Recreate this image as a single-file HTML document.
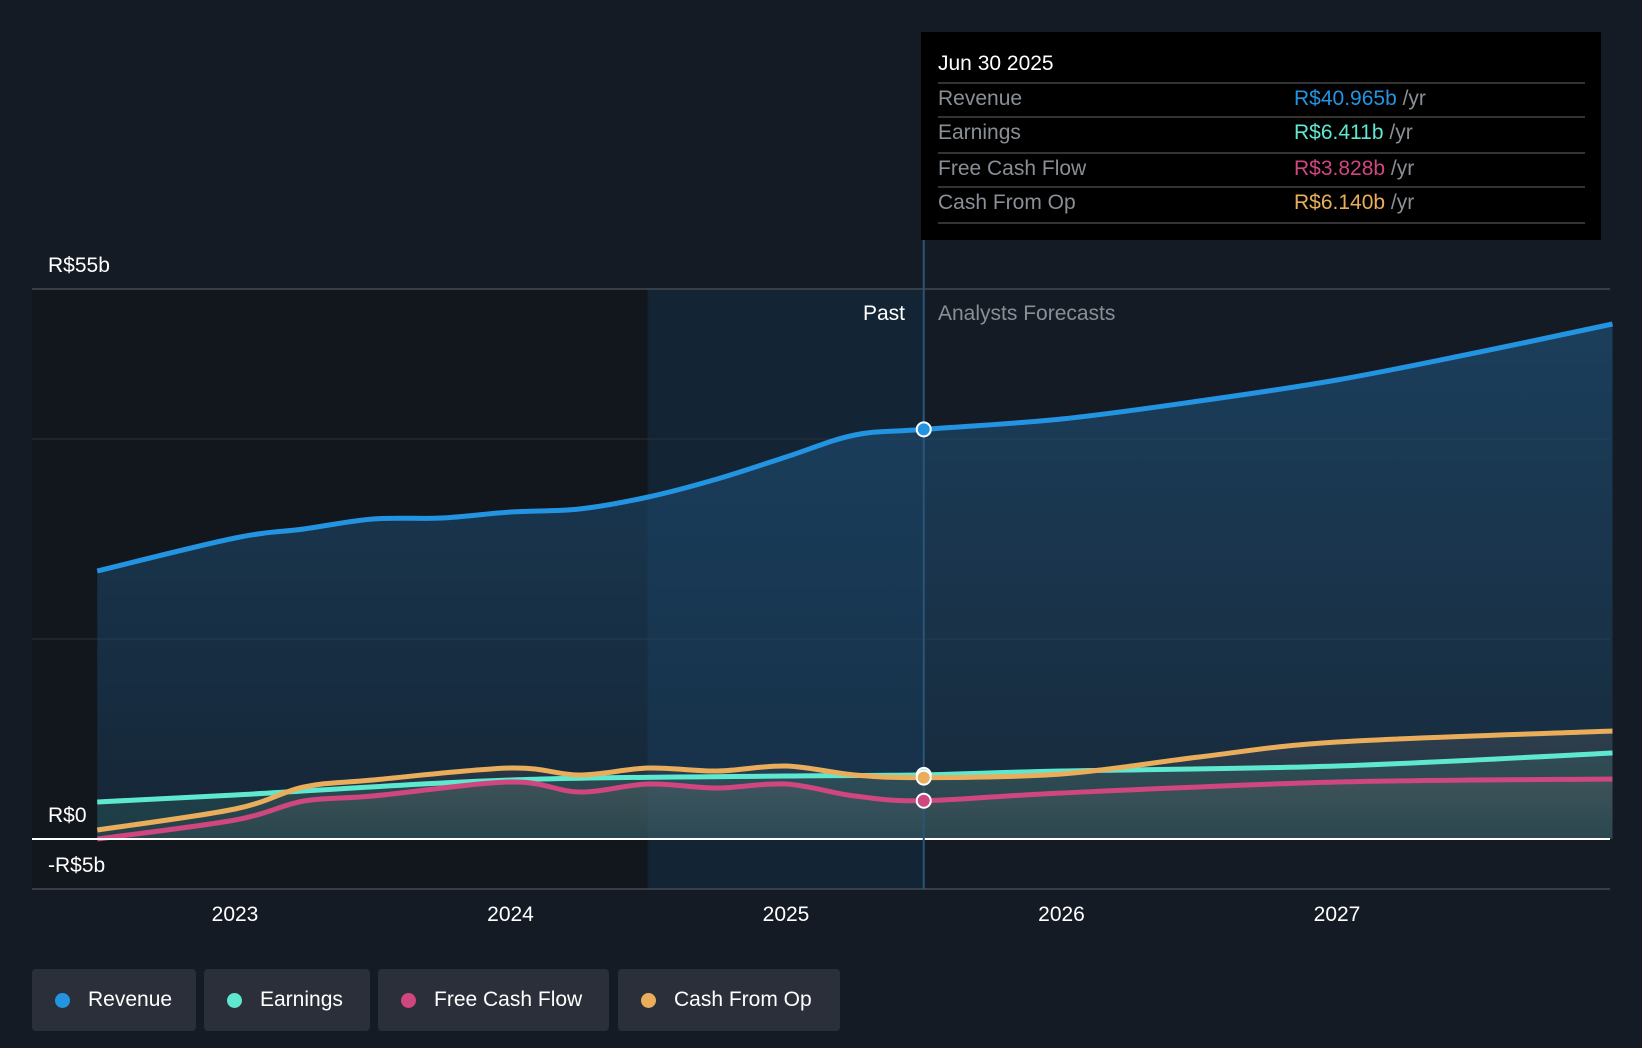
<!DOCTYPE html>
<html><head><meta charset="utf-8"><style>
body{margin:0;background:#151b24;width:1642px;height:1048px;overflow:hidden;font-family:"Liberation Sans",sans-serif}
.leg{position:absolute;top:969px;height:62px;background:#2a2f39;border-radius:4px;color:#fff;font-size:21px;display:flex;align-items:center}
.leg i{width:15px;height:15px;border-radius:50%;margin:0 18px 0 23px;display:inline-block}
</style></head><body>
<svg id="chart" width="1642" height="1048" style="position:absolute;left:0;top:0"></svg>
<div class="leg" style="left:32px;width:164px"><i style="background:#2394e2"></i>Revenue</div>
<div class="leg" style="left:204px;width:166px"><i style="background:#5ee8d0"></i>Earnings</div>
<div class="leg" style="left:378px;width:231px"><i style="background:#d0467e"></i>Free Cash Flow</div>
<div class="leg" style="left:618px;width:222px"><i style="background:#e9ad5c"></i>Cash From Op</div>
<script>
const revX=[2022.5,2023.0,2023.25,2023.5,2023.75,2024.0,2024.25,2024.5,2024.75,2025.0,2025.25,2025.5,2026.0,2026.5,2027.0,2027.5,2028.0];
const revY=[26.8,30.1,31.0,32.0,32.1,32.7,33.0,34.2,36.0,38.2,40.4,40.965,42.0,43.8,45.9,48.6,51.5];
const earnX=[2022.5,2023.0,2024.0,2025.0,2025.5,2026.0,2027.0,2028.0];
const earnY=[3.7,4.4,5.9,6.3,6.411,6.8,7.3,8.6];
const fcfX=[2022.5,2023.0,2023.25,2023.5,2024.0,2024.25,2024.5,2024.75,2025.0,2025.25,2025.5,2026.0,2027.0,2028.0];
const fcfY=[0.0,1.9,3.8,4.3,5.7,4.7,5.5,5.1,5.5,4.3,3.828,4.6,5.7,6.0];
const cfoX=[2022.5,2023.0,2023.25,2023.5,2024.0,2024.25,2024.5,2024.75,2025.0,2025.25,2025.5,2026.0,2026.5,2027.0,2028.0];
const cfoY=[0.9,3.0,5.2,5.9,7.1,6.4,7.1,6.8,7.3,6.4,6.14,6.5,8.2,9.7,10.8];
const yTicks=[55,0,-5];
const xTicks=[2023,2024,2025,2026,2027];
const NS="http://www.w3.org/2000/svg";
const svg=document.getElementById('chart');
const sx=v=>235+(v-2023)*275.5;
const sy=v=>839-v*10;
function el(t,a,p){const e=document.createElementNS(NS,t);for(const k in a)e.setAttribute(k,a[k]);(p||svg).appendChild(e);return e;}
const defs=el('defs',{});
defs.innerHTML='<linearGradient id="gb" x1="0" y1="0" x2="0" y2="1"><stop offset="0" stop-color="#1d4a6e" stop-opacity="0.75"/><stop offset="1" stop-color="#1d4a6e" stop-opacity="0.3"/></linearGradient><linearGradient id="gg" x1="0" y1="0" x2="0" y2="1"><stop offset="0" stop-color="#777" stop-opacity="0.5"/><stop offset="1" stop-color="#777" stop-opacity="0.15"/></linearGradient>';
let r=el('rect',{x:32,y:289,width:615,height:600,fill:'#12161d'});

r=el('rect',{x:sx(2024.5),y:289,width:sx(2025.5)-sx(2024.5),height:600,fill:'#13273a',opacity:0.8});

[40,20].forEach(v=>{const l=el('line',{x1:32,x2:1610,y1:sy(v),y2:sy(v),stroke:'#2c323c','stroke-width':1});
});
[55,-5].forEach(v=>{const l=el('line',{x1:32,x2:1610,y1:sy(v),y2:sy(v),stroke:'#444a54','stroke-width':1.5});
});
function path(xs,ys){const p=xs.map((x,i)=>[sx(x),sy(ys[i])]);let d='M'+p[0][0]+','+p[0][1];
for(let i=0;i<p.length-1;i++){const p0=p[i-1]||p[i],p1=p[i],p2=p[i+1],p3=p[i+2]||p2;
d+=' C'+(p1[0]+(p2[0]-p0[0])/6)+','+(p1[1]+(p2[1]-p0[1])/6)+' '+(p2[0]-(p3[0]-p1[0])/6)+','+(p2[1]-(p3[1]-p1[1])/6)+' '+p2[0]+','+p2[1];}
return d;}
function area(xs,ys){return path(xs,ys)+' L'+sx(xs[xs.length-1])+','+sy(0)+' L'+sx(xs[0])+','+sy(0)+'Z';}
const series=[['revenue',revX,revY,'#2394e2','url(#gb)'],['earnings',earnX,earnY,'#5ee8d0','#2a5a5a'],['cash-from-op',cfoX,cfoY,'#e9ad5c','url(#gg)'],['free-cash-flow',fcfX,fcfY,'#d0467e','url(#gg)']];
series.forEach(s=>{const a=el('path',{d:area(s[1],s[2]),fill:s[4],opacity:s[0]=='revenue'?1:0.45});
});
series.forEach(s=>{const l=el('path',{d:path(s[1],s[2]),fill:'none',stroke:s[3],'stroke-width':5});
});
const zl=el('line',{x1:32,x2:1610,y1:sy(0),y2:sy(0),stroke:'#fff','stroke-width':2});

const vl=el('line',{x1:sx(2025.5),x2:sx(2025.5),y1:240,y2:889,stroke:'#2a5577','stroke-width':2});

series.forEach(s=>{const i=s[1].indexOf(2025.5);const c=el('circle',{cx:sx(2025.5),cy:sy(s[2][i]),r:7,fill:s[3],stroke:'#fff','stroke-width':2});
});
function txt(x,y,t,o,name){const e=el('text',Object.assign({x:x,y:y,fill:'#fff','font-size':21,'font-family':'Liberation Sans, sans-serif'},o));e.textContent=t;
return e;}
yTicks.forEach(v=>txt(48,v==55?272:(v==0?822:872),(v<0?'-R$':'R$')+Math.abs(v)+(v==0?'':'b'),{},'y-tick-label'));
xTicks.forEach(v=>txt(sx(v),921,String(v),{'text-anchor':'middle'},'x-tick-label'));
txt(905,320,'Past',{'text-anchor':'end'},'past-label');
txt(938,320,'Analysts Forecasts',{fill:'#8a8f96'},'forecast-label');
const tb=el('rect',{x:921,y:32,width:680,height:208,fill:'#000'});

txt(938,70,'Jun 30 2025',{'font-size':21},'tooltip-date');
[83,117,153,187,223].forEach(y=>{const l=el('line',{x1:938,x2:1585,y1:y,y2:y,stroke:'#444','stroke-width':1.5});
});
const tips=[['Revenue','R$40.965b','#2394e2',105],['Earnings','R$6.411b','#5ee8d0',139],['Free Cash Flow','R$3.828b','#d0467e',175],['Cash From Op','R$6.140b','#e9ad5c',209]];
tips.forEach(t=>{txt(938,t[3],t[0],{fill:'#8a8f96',}, 'tooltip-label');
const e=txt(1294,t[3],'',{},'tooltip-value');
const a=el('tspan',{fill:t[2]},e);a.textContent=t[1];const b=el('tspan',{fill:'#8a8f96'},e);b.textContent=' /yr';});
</script>
</body></html>
